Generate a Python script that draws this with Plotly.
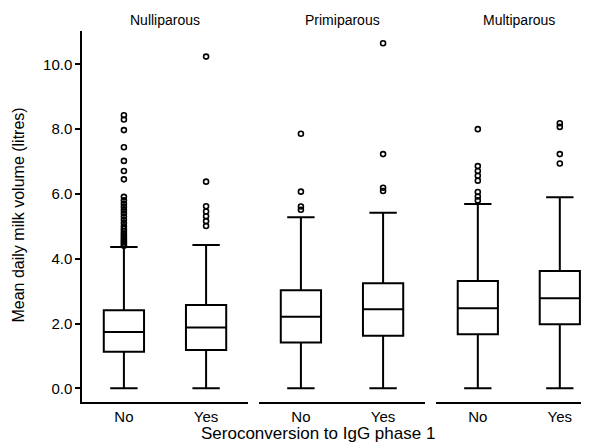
import plotly.graph_objects as go

# ---- data ----
groups = ["Nulliparous", "Primiparous", "Multiparous"]
categories = ["No", "Yes"]

q1 = {"Nulliparous": [1.13, 1.18], "Primiparous": [1.41, 1.62], "Multiparous": [1.67, 1.98]}
median = {"Nulliparous": [1.74, 1.88], "Primiparous": [2.21, 2.44], "Multiparous": [2.47, 2.78]}
q3 = {"Nulliparous": [2.41, 2.57], "Primiparous": [3.03, 3.24], "Multiparous": [3.31, 3.62]}
lower_whisker = {"Nulliparous": [0.0, 0.0], "Primiparous": [0.0, 0.0], "Multiparous": [0.0, 0.0]}
upper_whisker = {"Nulliparous": [4.36, 4.42], "Primiparous": [5.28, 5.42], "Multiparous": [5.69, 5.90]}

outliers_no = {
    "Nulliparous": [8.43, 8.30, 7.97, 7.44, 7.02, 6.71, 6.45,
                    5.91, 5.80, 5.70, 5.60, 5.50, 5.40, 5.30, 5.20, 5.10, 5.00,
                    4.92, 4.85, 4.78, 4.72, 4.66, 4.60, 4.55, 4.50, 4.45, 4.40],
    "Primiparous": [7.86, 6.07, 5.61, 5.51],
    "Multiparous": [8.00, 6.86, 6.71, 6.56, 6.41, 6.06, 5.92, 5.80],
}
outliers_yes = {
    "Nulliparous": [10.24, 6.38, 5.62, 5.46, 5.31, 5.16, 5.01],
    "Primiparous": [10.65, 7.23, 6.19, 6.09],
    "Multiparous": [8.18, 8.07, 7.23, 6.94],
}

y_ticks = [0, 2, 4, 6, 8, 10]

# ---- figure ----
# page body has an 8px margin, so the figure is shrunk and offset by 8px
OFF = 8
W, H = 589 - OFF, 443 - OFF
ML, MR, MT, MB = 82 - OFF, 0, 31 - OFF, 41
PW = W - ML - MR
PH = H - MT - MB

def px_x(p):
    return (p - OFF - ML) / PW

def px_y(p):
    return (H - MB - (p - OFF)) / PH

domains = [[0, px_x(248)], [px_x(259), px_x(425)], [px_x(436), 1.0]]
x_ranges = [[-0.51, 1.51], [-0.51, 1.51], [-0.51, 1.356]]

fig = go.Figure()
font_family = "Liberation Sans, Arial, sans-serif"

for i, g in enumerate(groups):
    xa = "x" if i == 0 else f"x{i+1}"
    fig.add_trace(go.Box(
        x=categories,
        q1=q1[g], median=median[g], q3=q3[g],
        lowerfence=lower_whisker[g], upperfence=upper_whisker[g],
        xaxis=xa, yaxis="y",
        width=0.49, whiskerwidth=0.68,
        fillcolor="white",
        line=dict(color="black", width=2),
        boxpoints=False,
        showlegend=False,
        hoverinfo="skip",
    ))
    ox = ["No"] * len(outliers_no[g]) + ["Yes"] * len(outliers_yes[g])
    oy = outliers_no[g] + outliers_yes[g]
    fig.add_trace(go.Scatter(
        x=ox, y=oy, mode="markers", xaxis=xa, yaxis="y",
        marker=dict(symbol="circle-open", size=5, color="black",
                    line=dict(color="black", width=1.6)),
        showlegend=False, hoverinfo="skip",
    ))

layout = dict(
    width=W, height=H,
    margin=dict(l=ML, r=MR, t=MT, b=MB, pad=0),
    paper_bgcolor="white", plot_bgcolor="white",
    font=dict(family=font_family, color="black"),
    boxmode="overlay",
    yaxis=dict(
        range=[-0.423, 11.03], tickvals=y_ticks, tickformat=".1f",
        showgrid=False, zeroline=False, showline=True,
        linecolor="black", linewidth=1.5,
        ticks="outside", ticklen=5, tickwidth=1.5, tickcolor="black",
        tickfont=dict(size=15, color="black"),
        anchor="x",
    ),
)
for i in range(3):
    key = "xaxis" if i == 0 else f"xaxis{i+1}"
    layout[key] = dict(
        domain=domains[i], range=x_ranges[i], type="category",
        categoryorder="array", categoryarray=categories,
        showgrid=False, zeroline=False, showline=True,
        linecolor="black", linewidth=1.5, ticks="",
        tickfont=dict(size=15, color="black"),
        anchor="y",
    )

annotations = []
facet_centers = [165, 342, 519]
for g, cx in zip(groups, facet_centers):
    annotations.append(dict(
        text=g, x=px_x(cx), y=px_y(20), xref="paper", yref="paper",
        xanchor="center", yanchor="middle", showarrow=False,
        font=dict(size=14, color="black", family=font_family),
    ))
annotations.append(dict(
    text="Seroconversion to IgG phase 1", x=px_x(318), y=px_y(433),
    xref="paper", yref="paper", xanchor="center", yanchor="middle",
    showarrow=False, font=dict(size=17, color="black", family=font_family),
))
annotations.append(dict(
    text="Mean daily milk volume (litres)", x=px_x(18), y=px_y(215.5),
    xref="paper", yref="paper", xanchor="center", yanchor="middle",
    textangle=-90, showarrow=False,
    font=dict(size=16, color="black", family=font_family),
))
layout["annotations"] = annotations

fig.update_layout(**layout)
fig.write_html("out.html")
